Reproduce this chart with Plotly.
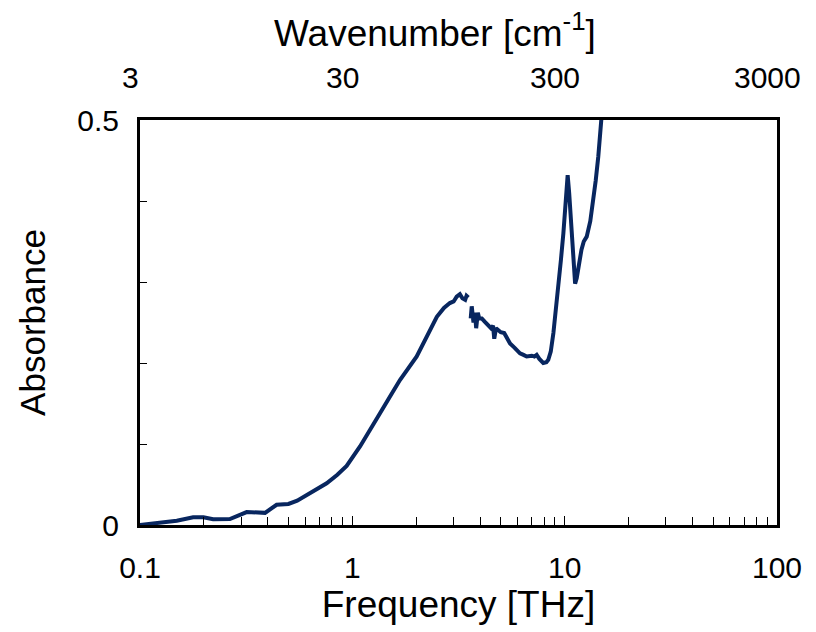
import math
import plotly.graph_objects as go

# Frequency [THz] and absorbance
freq = [0.1, 0.12, 0.149, 0.178, 0.199, 0.221, 0.265, 0.318, 0.354, 0.388, 0.44, 0.5,
        0.55, 0.61, 0.68, 0.757, 0.85, 0.94, 1.087, 1.2, 1.35, 1.5, 1.676, 2.01, 2.2,
        2.5, 2.7, 2.88, 3.0, 3.1, 3.21, 3.3, 3.4, 3.45, 3.52, None,
        3.61, 3.65, 3.72, 3.78, 3.83, 3.9, 3.96, 4.07, 4.2, 4.37, 4.5, 4.6, 4.66,
        4.75, 4.86, 5.0, 5.19, 5.35, 5.53, 5.8, 6.16, 6.4, 6.62, 7.0, 7.2, 7.38,
        7.6, 7.93, 8.2, 8.37, 8.6, 8.85, 9.1, 9.34, 9.6, 9.86, 10.1, 10.33, 10.5,
        10.65, 10.8, 11.0, 11.2, 11.4, 11.6, 12.0, 12.3, 12.7, 13.2, 13.6, 14.0,
        14.4, 14.9, 15.2]
absorb = [0.0, 0.002, 0.0053, 0.0095, 0.0095, 0.007, 0.0074, 0.016, 0.016, 0.015, 0.025, 0.026,
          0.030, 0.0366, 0.044, 0.0515, 0.062, 0.073, 0.097, 0.115, 0.138, 0.158, 0.179, 0.208, 0.228,
          0.257, 0.268, 0.274, 0.276, 0.282, 0.285, 0.280, 0.278, 0.283, 0.281, None,
          0.255, 0.270, 0.250, 0.262, 0.243, 0.262, 0.255, 0.255, 0.251, 0.247, 0.243, 0.246, 0.230,
          0.243, 0.241, 0.238, 0.237, 0.230, 0.224, 0.219, 0.212, 0.210, 0.208, 0.209, 0.208, 0.210,
          0.205, 0.200, 0.201, 0.204, 0.214, 0.237, 0.265, 0.294, 0.327, 0.360, 0.405, 0.432, 0.410,
          0.385, 0.360, 0.325, 0.298, 0.305, 0.319, 0.340, 0.350, 0.356, 0.375, 0.397, 0.425,
          0.455, 0.500, 0.530]

x_tick_vals = [0.1, 1, 10, 100]
x_tick_text = ["0.1", "1", "10", "100"]
top_tick_vals = [3, 30, 300, 3000]          # wavenumber [cm^-1]
top_tick_text = ["3", "30", "300", "3000"]
y_tick_vals = [0, 0.5]
y_tick_text = ["0", "0.5"]
y_minor_vals = [0.1, 0.2, 0.3, 0.4]

THZ_TO_CM = 33.356  # 1 THz in cm^-1
X_RANGE = [-1, 2]   # log10 of frequency range

# minor log ticks 2..9 in each decade
x_minor_vals = [round(d * m, 6) for d in [0.1, 1, 10] for m in range(2, 10)]

FONT = "Liberation Sans, Arial, sans-serif"
fig = go.Figure()
fig.add_trace(go.Scatter(x=freq, y=absorb, mode="lines",
                         line=dict(color="#08265f", width=4),
                         connectgaps=False, showlegend=False, hoverinfo="skip"))

# top wavenumber labels: map cm^-1 onto the log frequency axis (paper fraction)
annotations = []
for wv, txt in zip(top_tick_vals, top_tick_text):
    lx = math.log10(wv / THZ_TO_CM)
    px = (lx - X_RANGE[0]) / (X_RANGE[1] - X_RANGE[0])
    annotations.append(dict(text=txt, xref="paper", yref="paper",
                            x=px, y=1.104, xanchor="center", yanchor="middle",
                            showarrow=False, font=dict(size=30)))
annotations.append(dict(text="Wavenumber [cm<sup>-1</sup>]", xref="paper", yref="paper",
                        x=0.463, y=1.222, xanchor="center", yanchor="middle",
                        showarrow=False, font=dict(size=37)))

# page has an 8px body margin, so the figure is 808x624
fig.update_layout(
    width=808, height=624,
    margin=dict(l=132, r=39, t=112, b=107),
    paper_bgcolor="white", plot_bgcolor="white",
    font=dict(family=FONT, color="black", size=30),
    xaxis=dict(type="log", range=X_RANGE, tickmode="array",
               tickvals=x_tick_vals, ticktext=x_tick_text, automargin=False, tickangle=0,
               ticks="inside", ticklen=9, tickwidth=1, tickcolor="black",
               minor=dict(tickmode="array", tickvals=x_minor_vals, ticks="inside",
                          ticklen=8, tickwidth=1, tickcolor="black", showgrid=False),
               showline=True, linewidth=3, linecolor="black", mirror=True,
               showgrid=False, zeroline=False,
               tickfont=dict(size=30), ticklabelstandoff=14,
               title=dict(text="Frequency [THz]", font=dict(size=37), standoff=7)),
    yaxis=dict(range=[0, 0.5], tickmode="array", tickvals=y_tick_vals, ticktext=y_tick_text,
               automargin=False,
               ticks="inside", ticklen=7, tickwidth=1, tickcolor="black",
               minor=dict(tickmode="array", tickvals=y_minor_vals, ticks="inside",
                          ticklen=7, tickwidth=1, tickcolor="black", showgrid=False),
               showline=True, linewidth=3, linecolor="black", mirror=True,
               showgrid=False, zeroline=False,
               tickfont=dict(size=30), ticklabelstandoff=12,
               title=dict(text="Absorbance", font=dict(size=35), standoff=22)),
    annotations=annotations,
)

fig.write_html("out.html")
